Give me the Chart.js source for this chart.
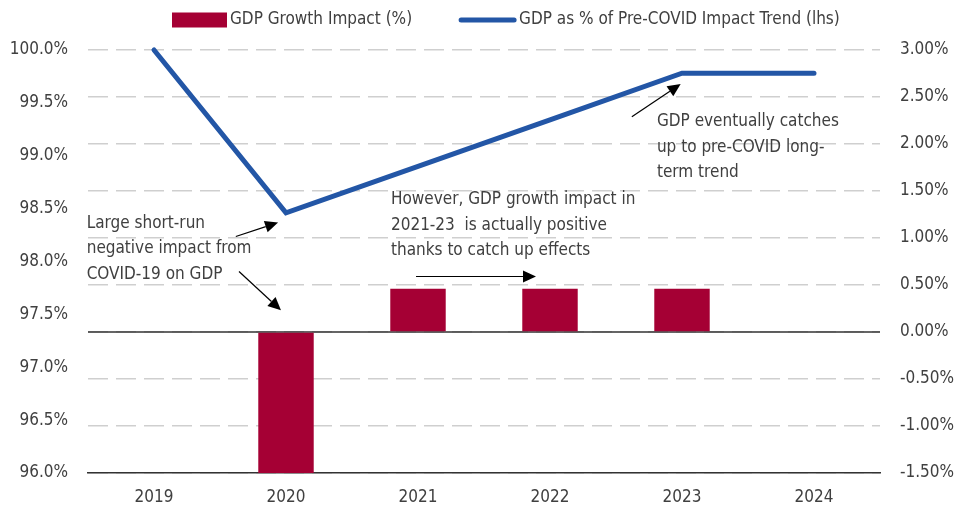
<!DOCTYPE html>
<html>
<head>
<meta charset="utf-8">
<script src="https://cdn.jsdelivr.net/npm/chart.js@4/dist/chart.umd.min.js"></script>
<style>
html,body{margin:0;padding:0;background:#fff;}
#wrap{width:966px;height:510px;position:relative;}
</style>
</head>
<body>
<div id="wrap"><canvas id="c" width="966" height="510"></canvas></div>
<script>
const categories = ['2019','2020','2021','2022','2023','2024'];
const growthImpact = [null, -1.5, 0.46, 0.46, 0.46, null];
const gdpVsTrend = [100.0, 98.46, 98.9, 99.34, 99.78, 99.78];
const leftTicks = [96.0, 96.5, 97.0, 97.5, 98.0, 98.5, 99.0, 99.5, 100.0];
const rightTicks = [-1.5, -1.0, -0.5, 0.0, 0.5, 1.0, 1.5, 2.0, 2.5, 3.0];
const seriesNames = ['GDP Growth Impact (%)', 'GDP as % of Pre-COVID Impact Trend (lhs)'];

const notes = [
  {lines:['Large short-run','negative impact from','COVID-19 on GDP'], x:-0.51, y:98.36},
  {lines:['However, GDP growth impact in','2021-23  is actually positive','thanks to catch up effects'], x:1.795, y:98.585},
  {lines:['GDP eventually catches','up to pre-COVID long-','term trend'], x:3.81, y:99.32}
];
const arrows = [
  {from:[0.62, 98.236], to:[0.94, 98.368]},
  {from:[0.644, 97.906], to:[0.962, 97.538]},
  {from:[1.985, 97.858], to:[2.894, 97.858]},
  {from:[3.62, 99.368], to:[3.99, 99.679]}
];

const FONT = "'Liberation Sans Narrow', 'DejaVu Sans Condensed', 'Roboto', sans-serif";
const TXT = '#404040';
const RED = '#a50034';
const BLUE = '#2356a6';

const annot = {
  id:'annot',
  beforeDatasetsDraw(chart){
    const {ctx, chartArea} = chart;
    const yr = chart.scales.yR;
    const y0 = yr.getPixelForValue(0);
    ctx.save();
    ctx.strokeStyle = '#333';
    ctx.lineWidth = 1.5;
    ctx.beginPath();
    ctx.moveTo(chartArea.left, y0);
    ctx.lineTo(chartArea.right, y0);
    ctx.stroke();
    ctx.restore();
  },
  afterDatasetsDraw(chart){
    const {ctx} = chart;
    const xs = chart.scales.x, ys = chart.scales.yL;
    const px = v => xs.getPixelForValue(0) + v * (xs.getPixelForValue(1) - xs.getPixelForValue(0));
    ctx.save();
    ctx.fillStyle = TXT;
    ctx.font = "17px " + FONT;
    ctx.textBaseline = 'middle';
    ctx.textAlign = 'left';
    notes.forEach(n => {
      const x = px(n.x), y = ys.getPixelForValue(n.y);
      n.lines.forEach((t,i) => ctx.fillText(t, x, y + i*25.5));
    });
    ctx.strokeStyle = '#000';
    ctx.fillStyle = '#000';
    ctx.lineWidth = 1.2;
    arrows.forEach(a => {
      const x1 = px(a.from[0]), y1 = ys.getPixelForValue(a.from[1]);
      const x2 = px(a.to[0]), y2 = ys.getPixelForValue(a.to[1]);
      const ang = Math.atan2(y2-y1, x2-x1);
      const L = 13, W = 6;
      const bx = x2 - L*Math.cos(ang), by = y2 - L*Math.sin(ang);
      ctx.beginPath();
      ctx.moveTo(x1,y1); ctx.lineTo(bx,by); ctx.stroke();
      ctx.beginPath();
      ctx.moveTo(x2,y2);
      ctx.lineTo(bx + W*Math.sin(ang), by - W*Math.cos(ang));
      ctx.lineTo(bx - W*Math.sin(ang), by + W*Math.cos(ang));
      ctx.closePath(); ctx.fill();
    });

    // legend
    const ly = 20;
    let lx = 172;
    ctx.font = "17px " + FONT;
    ctx.fillStyle = RED;
    ctx.fillRect(lx, ly - 7.5, 55, 15);
    lx += 58;
    ctx.fillStyle = TXT;
    ctx.fillText(seriesNames[0], lx, ly);
    lx += ctx.measureText(seriesNames[0]).width + 49;
    ctx.strokeStyle = BLUE;
    ctx.lineWidth = 5;
    ctx.lineCap = 'round';
    ctx.beginPath();
    ctx.moveTo(lx, ly); ctx.lineTo(lx + 53, ly); ctx.stroke();
    lx += 58;
    ctx.fillStyle = TXT;
    ctx.fillText(seriesNames[1], lx, ly);
    ctx.restore();
  }
};

new Chart(document.getElementById('c'), {
  data:{
    labels: categories,
    datasets:[
      {type:'bar', label:seriesNames[0], data:growthImpact, yAxisID:'yR', backgroundColor:RED, borderWidth:0,
       barPercentage:0.42, categoryPercentage:1, order:2},
      {type:'line', label:seriesNames[1], data:gdpVsTrend, yAxisID:'yL', borderColor:BLUE, backgroundColor:BLUE,
       borderWidth:5, pointRadius:0, tension:0, clip:false, borderCapStyle:'round', order:1}
    ]
  },
  options:{
    responsive:false, animation:false, maintainAspectRatio:false,
    layout:{padding:{top:50,left:0,right:0,bottom:0}},
    plugins:{
      tooltip:{enabled:false},
      legend:{display:false}
    },
    scales:{
      x:{
        offset:true,
        grid:{display:false, drawTicks:false},
        border:{display:true, color:'#333', width:1.5},
        ticks:{font:{family:FONT, size:17}, color:TXT, padding:14},
        afterFit(s){ s.height = 37; }
      },
      yL:{
        position:'left', min:96, max:100,
        afterBuildTicks(s){ s.ticks = leftTicks.map(v => ({value:v})); },
        grid:{display:false, drawTicks:false},
        border:{display:false},
        ticks:{font:{family:FONT, size:17}, color:TXT, padding:20, callback:v => v.toFixed(1)+'%'},
        afterFit(s){ s.width = 88; }
      },
      yR:{
        position:'right', min:-1.5, max:3,
        afterBuildTicks(s){ s.ticks = rightTicks.map(v => ({value:v})); },
        grid:{display:true, drawTicks:false, color:'#cfcfcf', lineWidth:1.5},
        border:{display:false, dash:[20,8]},
        ticks:{font:{family:FONT, size:17}, color:TXT, padding:20, callback:v => v.toFixed(2)+'%'},
        afterFit(s){ s.width = 86; }
      }
    }
  },
  plugins:[annot]
});
</script>
</body>
</html>
